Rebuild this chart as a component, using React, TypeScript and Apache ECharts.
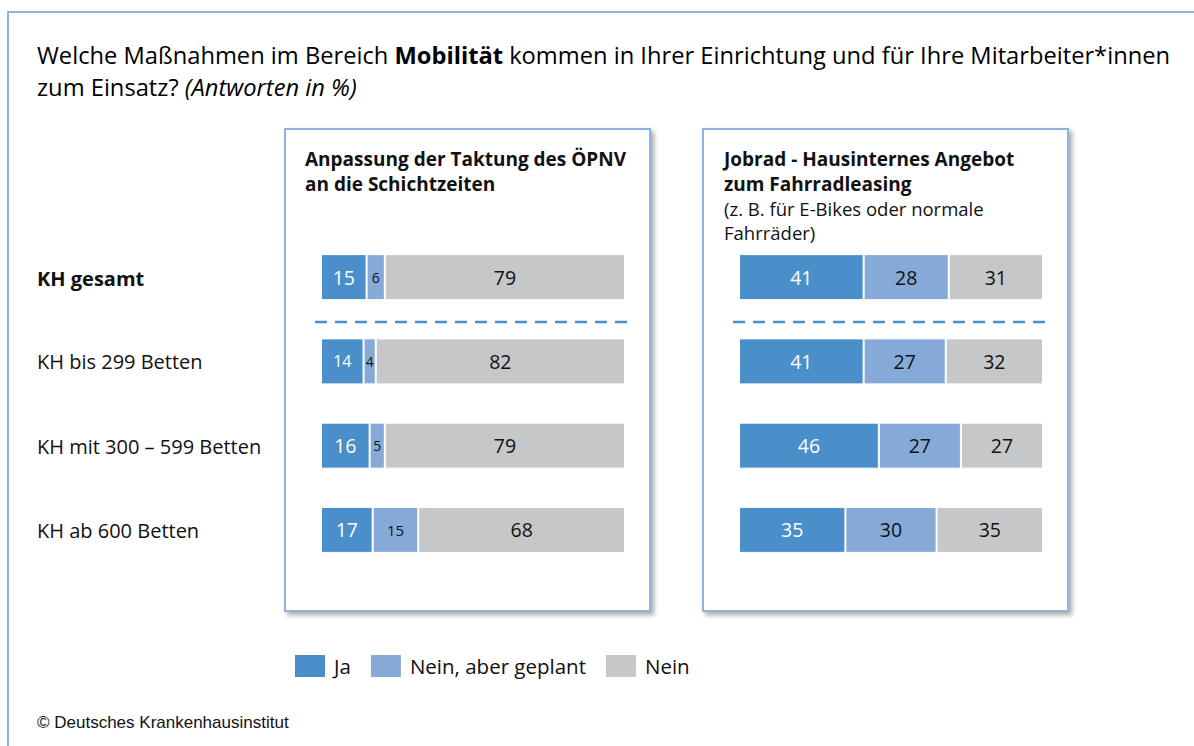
import React, { useEffect, useRef } from 'react';
import * as echarts from 'echarts';

const categories = ['KH gesamt', 'KH bis 299 Betten', 'KH mit 300 – 599 Betten', 'KH ab 600 Betten'];
const seriesNames = ['Ja', 'Nein, aber geplant', 'Nein'];
const oepnvJa = [15, 14, 16, 17];
const oepnvGeplant = [6, 4, 5, 15];
const oepnvNein = [79, 82, 79, 68];
const jobradJa = [41, 41, 46, 35];
const jobradGeplant = [28, 27, 27, 30];
const jobradNein = [31, 32, 27, 35];
const titleLine1Parts = ['Welche Maßnahmen im Bereich ', 'Mobilität', ' kommen in Ihrer Einrichtung und für Ihre Mitarbeiter*innen'];
const titleLine2Parts = ['zum Einsatz? ', '(Antworten in %)'];
const panel1Title = ['Anpassung der Taktung des ÖPNV', 'an die Schichtzeiten'];
const panel2Title = ['Jobrad - Hausinternes Angebot', 'zum Fahrradleasing'];
const panel2Sub = ['(z. B. für E-Bikes oder normale', 'Fahrräder)'];
const sourceText = '© Deutsches Krankenhausinstitut';

const FONT = '"Open Sans", "Noto Sans", sans-serif';
const COLORS = ['#4a8fc9', '#85aad7', '#c6c7c9'];
const BORDER = '#8fb3df';

function labelSize(si: number, v: number) {
  if (v < 10) return 14;
  if (si === 1 && v < 20) return 15;
  if (si === 0 && v < 15) return 16;
  return 19.5;
}

function makeSeries(data: number[], si: number, gi: number) {
  return {
    type: 'bar',
    name: seriesNames[si],
    stack: 'g' + gi,
    xAxisIndex: gi,
    yAxisIndex: gi,
    barWidth: 46,
    itemStyle: { color: COLORS[si], borderColor: '#ffffff', borderWidth: 1 },
    data: data.map((v) => ({
      value: v,
      label: {
        show: true,
        position: 'inside',
        fontSize: labelSize(si, v),
        fontFamily: FONT,
        color: si === 0 ? '#ffffff' : '#111111',
      },
    })),
  };
}

export default function App() {
  const ref = useRef<HTMLDivElement>(null);
  useEffect(() => {
    const chart = echarts.init(ref.current!, undefined, { renderer: 'svg' });
    const panelRect = (x: number) => ({
      type: 'rect',
      shape: { x, y: 129, width: 365, height: 482 },
      style: {
        fill: '#ffffff',
        stroke: BORDER,
        lineWidth: 2,
        shadowBlur: 5,
        shadowOffsetX: 3,
        shadowOffsetY: 3,
        shadowColor: 'rgba(0,0,0,0.35)',
      },
      z: -10,
    });
    const txt = (text: string, x: number, y: number, size: number, weight: string, extra: any = {}) => ({
      type: 'text',
      x,
      y,
      style: {
        text,
        fontSize: size,
        fontWeight: weight,
        fontFamily: FONT,
        fill: '#111111',
        align: 'left',
        verticalAlign: 'middle',
        ...extra,
      },
    });
    const dash = (x1: number, x2: number) => ({
      type: 'line',
      shape: { x1, y1: 322, x2, y2: 322 },
      style: { stroke: '#4a8fc9', lineWidth: 2.5, lineDash: [12, 8] },
    });
    const hiddenX = (gi: number) => ({
      type: 'value',
      gridIndex: gi,
      min: 0,
      max: 100,
      show: false,
    });
    const yAx = (gi: number) => ({
      type: 'category',
      gridIndex: gi,
      data: categories,
      inverse: true,
      axisLine: { show: false },
      axisTick: { show: false },
      splitLine: { show: false },
      axisLabel: gi === 0
        ? {
            show: true,
            align: 'left',
            margin: 284,
            fontSize: 20,
            fontFamily: FONT,
            color: '#111111',
            padding: [1, 0, 0, 0],
            formatter: (v: string, i: number) => (i === 0 ? '{b|' + v + '}' : v),
            rich: { b: { fontWeight: 'bold', fontSize: 20, fontFamily: FONT, color: '#111111', padding: [2, 0, 0, 0] } },
          }
        : { show: false },
    });
    chart.setOption({
      animation: false,
      backgroundColor: '#ffffff',
      grid: [
        { left: 321, width: 304, top: 235, height: 337 },
        { left: 739, width: 304, top: 235, height: 337 },
      ],
      xAxis: [hiddenX(0), hiddenX(1)],
      yAxis: [yAx(0), yAx(1)],
      legend: {
        left: 293,
        top: 653,
        padding: 0,
        itemWidth: 32,
        itemHeight: 24,
        itemGap: 18,
        icon: 'rect',
        data: seriesNames,
        textStyle: { fontSize: 20.5, fontFamily: FONT, color: '#111111', padding: [0, 0, 0, 3] },
        selectedMode: false,
      },
      graphic: [
        {
          type: 'polyline',
          shape: { points: [[8, 746], [8, 12], [1194, 12]] },
          style: { stroke: BORDER, lineWidth: 2, fill: 'none' },
        },
        panelRect(285),
        panelRect(703),
        dash(315, 627),
        dash(733, 1045),
        {
          type: 'text',
          x: 37,
          y: 55,
          style: {
            text: '{n|' + titleLine1Parts[0] + '}{b|' + titleLine1Parts[1] + '}{n|' + titleLine1Parts[2] + '}',
            verticalAlign: 'middle',
            align: 'left',
            rich: {
              n: { fontSize: 23.7, fontFamily: FONT, color: '#111111' },
              b: { fontSize: 23.7, fontFamily: FONT, fontWeight: 'bold', color: '#111111' },
            },
          },
        },
        {
          type: 'text',
          x: 37,
          y: 87,
          style: {
            text: '{n|' + titleLine2Parts[0] + '}{i|' + titleLine2Parts[1] + '}',
            verticalAlign: 'middle',
            align: 'left',
            rich: {
              n: { fontSize: 23.7, fontFamily: FONT, color: '#111111' },
              i: { fontSize: 23.7, fontFamily: FONT, fontStyle: 'italic', color: '#111111' },
            },
          },
        },
        txt(panel1Title[0], 305, 159, 19, 'bold'),
        txt(panel1Title[1], 305, 184, 19, 'bold'),
        txt(panel2Title[0], 724, 159, 19, 'bold'),
        txt(panel2Title[1], 724, 184, 19, 'bold'),
        txt(panel2Sub[0], 724, 208, 18.5, 'normal'),
        txt(panel2Sub[1], 724, 232, 18.5, 'normal'),
        txt(sourceText, 37, 722, 17, 'normal', { fontFamily: '"Liberation Sans", Arial, sans-serif' }),
      ],
      series: [
        makeSeries(oepnvJa, 0, 0),
        makeSeries(oepnvGeplant, 1, 0),
        makeSeries(oepnvNein, 2, 0),
        makeSeries(jobradJa, 0, 1),
        makeSeries(jobradGeplant, 1, 1),
        makeSeries(jobradNein, 2, 1),
      ],
    });
    return () => chart.dispose();
  }, []);
  return (
    <div
      ref={ref}
      style={{ position: 'fixed', left: 0, top: 0, width: 1194, height: 746 }}
    />
  );
}
